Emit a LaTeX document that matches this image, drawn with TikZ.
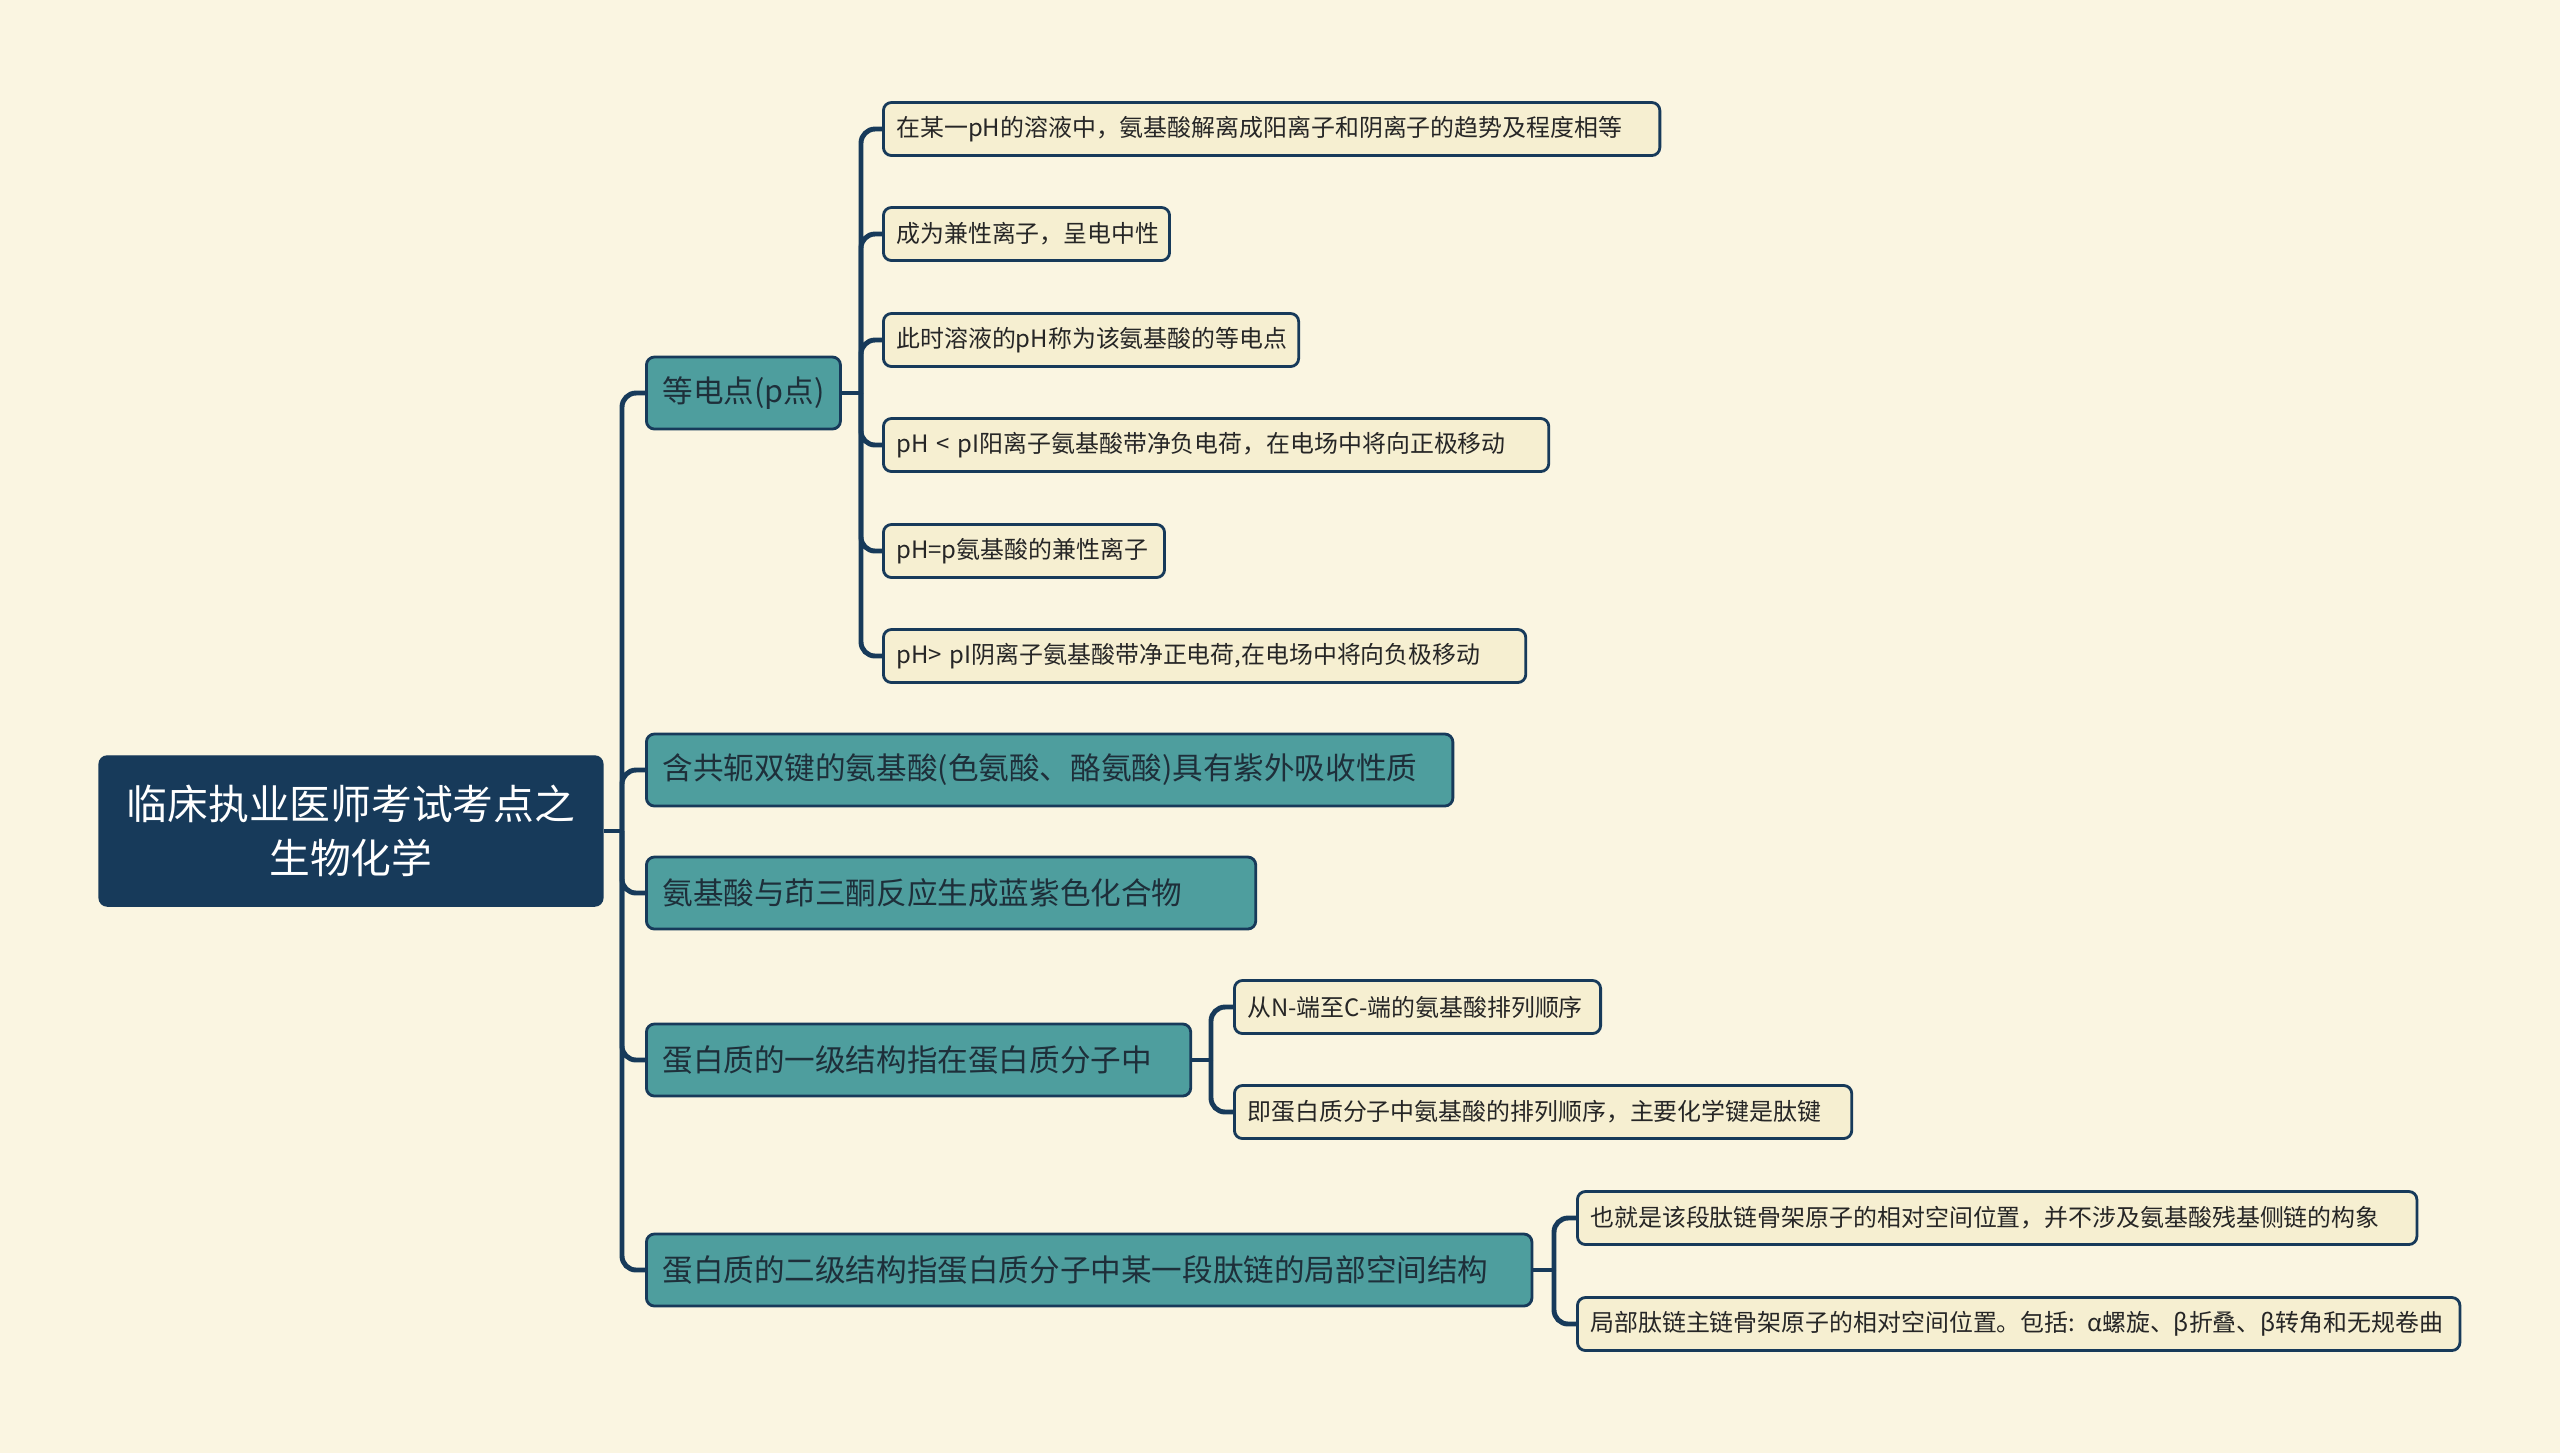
\documentclass[tikz,border=0pt]{standalone}
\usepackage{fontspec}
\setmainfont{Noto Sans CJK SC}
\usetikzlibrary{positioning}

\definecolor{paper}{HTML}{FAF5E1}
\definecolor{navy}{HTML}{173A5A}
\definecolor{teal1}{HTML}{4E9E9E}
\definecolor{cream}{HTML}{F6EFD1}
\definecolor{ink}{HTML}{1E2F3A}

\begin{document}
\begin{tikzpicture}[x=0.01cm,y=-0.01cm,
  rootbox/.style={draw=navy, fill=navy, text=white, rounded corners=2.3pt,
    minimum width=5cm, minimum height=1.5cm, text width=4.8cm, align=center,
    font=\fontsize{11.6pt}{15.4pt}\selectfont},
  topicbox/.style={draw=navy, line width=0.8pt, fill=teal1, text=ink, anchor=west,
    rounded corners=2.3pt, minimum height=0.72cm, inner xsep=0.16cm, align=left,
    font=\fontsize{8.7pt}{10pt}\selectfont},
  leafbox/.style={draw=navy, line width=0.8pt, fill=cream, text=black!85, anchor=west,
    rounded corners=2.3pt, minimum height=0.53cm, inner xsep=0.13cm, align=left,
    font=\fontsize{6.8pt}{8.2pt}\selectfont},
  tw/.style={text width=#1},
  link/.style={draw=navy, line width=1.4pt, rounded corners=4pt}]

\fill[paper] (0,0) rectangle (2560,1453);
\useasboundingbox (0,0) rectangle (2560,1453);

%% root and main topics
\node[rootbox] (v1) at (351,831) {临床执业医师考试考点之\\生物化学};

\node[topicbox] (v2) at (645,393) {等电点(p点)};
\node[topicbox, tw=7.74cm] (v3) at (645,770) {含共轭双键的氨基酸(色氨酸、酪氨酸)具有紫外吸收性质};
\node[topicbox, tw=5.77cm] (v4) at (645,893) {氨基酸与茚三酮反应生成蓝紫色化合物};
\node[topicbox, tw=5.12cm] (v5) at (645,1060) {蛋白质的一级结构指在蛋白质分子中};
\node[topicbox, tw=8.53cm] (v6) at (645,1270) {蛋白质的二级结构指蛋白质分子中某一段肽链的局部空间结构};

%% leaves
\node[leafbox, tw=7.50cm] (v7) at (882,129) {在某一pH的溶液中，氨基酸解离成阳离子和阴离子的趋势及程度相等};
\node[leafbox, tw=2.60cm] (v8) at (882,234) {成为兼性离子，呈电中性};
\node[leafbox, tw=3.89cm] (v9) at (882,340) {此时溶液的pH称为该氨基酸的等电点};
\node[leafbox, tw=6.39cm] (v10) at (882,445) {pH < pI阳离子氨基酸带净负电荷，在电场中将向正极移动};
\node[leafbox, tw=2.55cm] (v11) at (882,551) {pH=p氨基酸的兼性离子};
\node[leafbox, tw=6.16cm] (v12) at (882,656) {pH> pI阴离子氨基酸带净正电荷,在电场中将向负极移动};

\node[leafbox, tw=3.40cm] (v13) at (1233,1007) {从N-端至C-端的氨基酸排列顺序};
\node[leafbox, tw=5.91cm] (v14) at (1233,1112) {即蛋白质分子中氨基酸的排列顺序，主要化学键是肽键};

\node[leafbox, tw=8.13cm] (v15) at (1576,1218) {也就是该段肽链骨架原子的相对空间位置，并不涉及氨基酸残基侧链的构象};
\node[leafbox, tw=8.56cm] (v16) at (1576,1324) {局部肽链主链骨架原子的相对空间位置。包括: α螺旋、β折叠、β转角和无规卷曲};

%% trunk
\coordinate (c1) at (622,831);
\draw[link] (v1.east) -- (c1);
\draw[link] (c1) |- (v2.west);
\draw[link] (c1) |- (v3.west);
\draw[link] (c1) |- (v4.west);
\draw[link] (c1) |- (v5.west);
\draw[link] (c1) |- (v6.west);

%% branches
\coordinate (c2) at (861,393);
\draw[link] (v2.east) -- (c2);
\draw[link] (c2) |- (v7.west);
\draw[link] (c2) |- (v8.west);
\draw[link] (c2) |- (v9.west);
\draw[link] (c2) |- (v10.west);
\draw[link] (c2) |- (v11.west);
\draw[link] (c2) |- (v12.west);

\coordinate (c3) at (1211,1060);
\draw[link] (v5.east) -- (c3);
\draw[link] (c3) |- (v13.west);
\draw[link] (c3) |- (v14.west);

\coordinate (c4) at (1554,1270);
\draw[link] (v6.east) -- (c4);
\draw[link] (c4) |- (v15.west);
\draw[link] (c4) |- (v16.west);
\end{tikzpicture}
\end{document}
